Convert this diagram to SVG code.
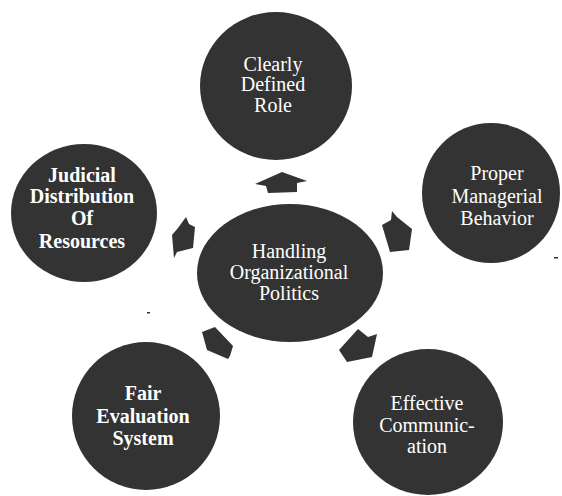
<svg xmlns="http://www.w3.org/2000/svg" width="562" height="496" viewBox="0 0 562 496">
  <style>
    .node { fill: #333333; }
    .arrow { fill: #333333; }
    text { fill: #ffffff; font-family: "Liberation Serif", "Times New Roman", serif; font-size: 20px; text-anchor: middle; }
    .b { font-weight: bold; }
  </style>
  <rect width="562" height="496" fill="#ffffff"/>

  <!-- block arrows pointing from the hub out to each circle -->
  <g id="connectors">
    <polygon class="arrow" points="255,184 282,172 307,181 297,183 297,192 268,193 266,186"/>
    <polygon class="arrow" points="392,211 397,217 412,229 409,250 390,252 382,225 391,220"/>
    <polygon class="arrow" points="358,329 368,337 377,334 372,357 347,362 339,350"/>
    <polygon class="arrow" points="202,332 215,327 233,346 230,356 228,359 207,350"/>
    <polygon class="arrow" points="186,217 189,224 195,227 193,248 177,252 174,258 172,235 178,228"/>
  </g>

  <g id="hub">
    <ellipse class="node" cx="290" cy="273" rx="93" ry="69"/>
    <text x="289" y="258">Handling</text>
    <text x="289" y="279">Organizational</text>
    <text x="289" y="300">Politics</text>
  </g>

  <g id="role">
    <ellipse class="node" cx="276" cy="86" rx="76" ry="74"/>
    <text x="273" y="71">Clearly</text>
    <text x="273" y="91">Defined</text>
    <text x="273" y="112">Role</text>
  </g>

  <g id="behavior">
    <ellipse class="node" cx="491" cy="193" rx="69" ry="70"/>
    <text x="497" y="180">Proper</text>
    <text x="497" y="203">Managerial</text>
    <text x="497" y="225">Behavior</text>
  </g>

  <g id="communication">
    <ellipse class="node" cx="428" cy="422" rx="75" ry="73"/>
    <text x="427" y="410">Effective</text>
    <text x="427" y="432">Communic-</text>
    <text x="427" y="453">ation</text>
  </g>

  <g id="evaluation">
    <ellipse class="node" cx="146" cy="416" rx="74" ry="74"/>
    <text class="b" x="143" y="400">Fair</text>
    <text class="b" x="143" y="423">Evaluation</text>
    <text class="b" x="143" y="445">System</text>
  </g>

  <g id="resources">
    <ellipse class="node" cx="84" cy="213" rx="73" ry="69"/>
    <text class="b" x="82" y="182">Judicial</text>
    <text class="b" x="82" y="203">Distribution</text>
    <text class="b" x="82" y="225">Of</text>
    <text class="b" x="82" y="248">Resources</text>
  </g>

  <!-- stray specks -->
  <rect x="147" y="312" width="3" height="1.5" fill="#333333"/>
  <rect x="554" y="257" width="4" height="1.5" fill="#333333"/>
</svg>
